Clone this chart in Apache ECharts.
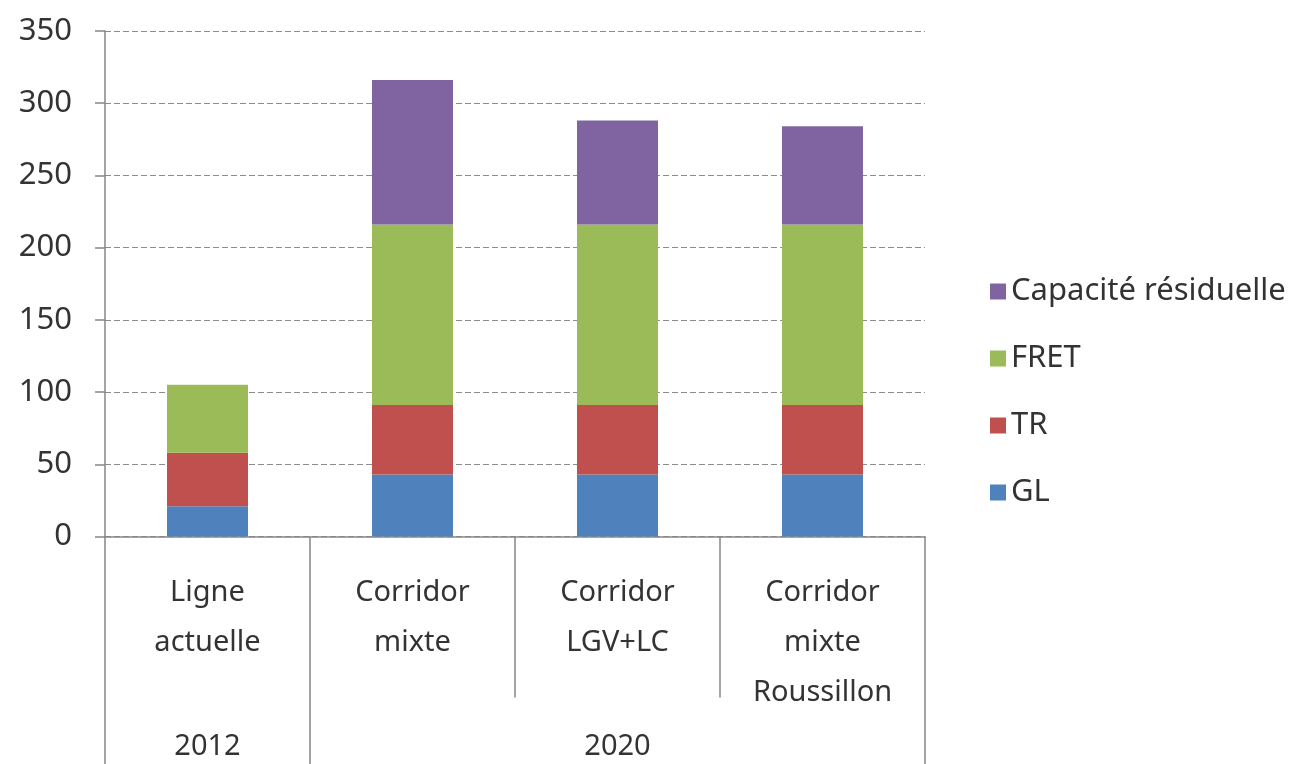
<!DOCTYPE html>
<html>
<head>
<meta charset="utf-8">
<script src="https://cdn.jsdelivr.net/npm/echarts@6/dist/echarts.min.js"></script>
<style>html,body{margin:0;padding:0;background:#fff;}#c{width:1308px;height:764px;}</style>
</head>
<body>
<div id="c"></div>
<script>
const categories = ['Ligne\nactuelle', 'Corridor\nmixte', 'Corridor\nLGV+LC', 'Corridor\nmixte\nRoussillon'];
const years = ['2012', '2020', '2020', '2020'];
const GL = [21, 43, 43, 43];
const TR = [37, 48, 48, 48];
const FRET = [47, 125, 125, 125];
const CAP = [null, 100, 72, 68];
const yTicks = { min: 0, max: 350, interval: 50 };

const font = 'Noto Sans';
const txt = '#333333';
const axisCol = '#868686';

const chart = echarts.init(document.getElementById('c'));
chart.setOption({
  animation: false,
  textStyle: { fontFamily: font },
  grid: { left: 105, right: 383, top: 31, bottom: 227.5 },
  legend: {
    orient: 'vertical', left: 985, top: 271,
    icon: 'rect', itemWidth: 16, itemHeight: 16, itemGap: 36,
    textStyle: { fontFamily: font, fontSize: 31, color: txt, lineHeight: 30 },
    data: ['Capacité résiduelle', 'FRET', 'TR', 'GL']
  },
  xAxis: [
    {
      type: 'category', data: categories, position: 'bottom',
      axisLine: { show: true, lineStyle: { color: axisCol, width: 1.5 } },
      axisTick: { show: true, interval: 0, length: 161, lineStyle: { color: axisCol, width: 1.5 } },
      axisLabel: { interval: 0, fontFamily: font, fontSize: 29, color: txt, lineHeight: 50, margin: 31 }
    },
    {
      type: 'category', data: years, position: 'bottom', offset: 0,
      axisLine: { show: false },
      axisTick: { show: true, length: 228, interval: function (i) { return i === 0 || i === 1; }, lineStyle: { color: axisCol, width: 1.5 } },
      axisLabel: { interval: 0, fontFamily: font, fontSize: 29, color: txt, margin: 196,
        formatter: function (v, i) { return (i === 0 || i === 2) ? v : ''; } }
    }
  ],
  yAxis: {
    type: 'value', min: yTicks.min, max: yTicks.max, interval: yTicks.interval,
    axisLine: { show: true, lineStyle: { color: axisCol, width: 1.5 } },
    axisTick: { show: true, length: 10, lineStyle: { color: axisCol, width: 1.5 } },
    axisLabel: { fontFamily: font, fontSize: 31, color: txt, margin: 33 },
    splitLine: { show: true, lineStyle: { color: '#8c8c8c', type: [6, 3], width: 1.2 } }
  },
  series: [
    { name: 'GL', type: 'bar', stack: 's', data: GL, barWidth: 81, itemStyle: { color: '#4F81BD' } },
    { name: 'TR', type: 'bar', stack: 's', data: TR, barWidth: 81, itemStyle: { color: '#C0504D' } },
    { name: 'FRET', type: 'bar', stack: 's', data: FRET, barWidth: 81, itemStyle: { color: '#9BBB59' } },
    { name: 'Capacité résiduelle', type: 'bar', stack: 's', data: CAP, barWidth: 81, itemStyle: { color: '#8064A2' } }
  ]
});
</script>
</body>
</html>
